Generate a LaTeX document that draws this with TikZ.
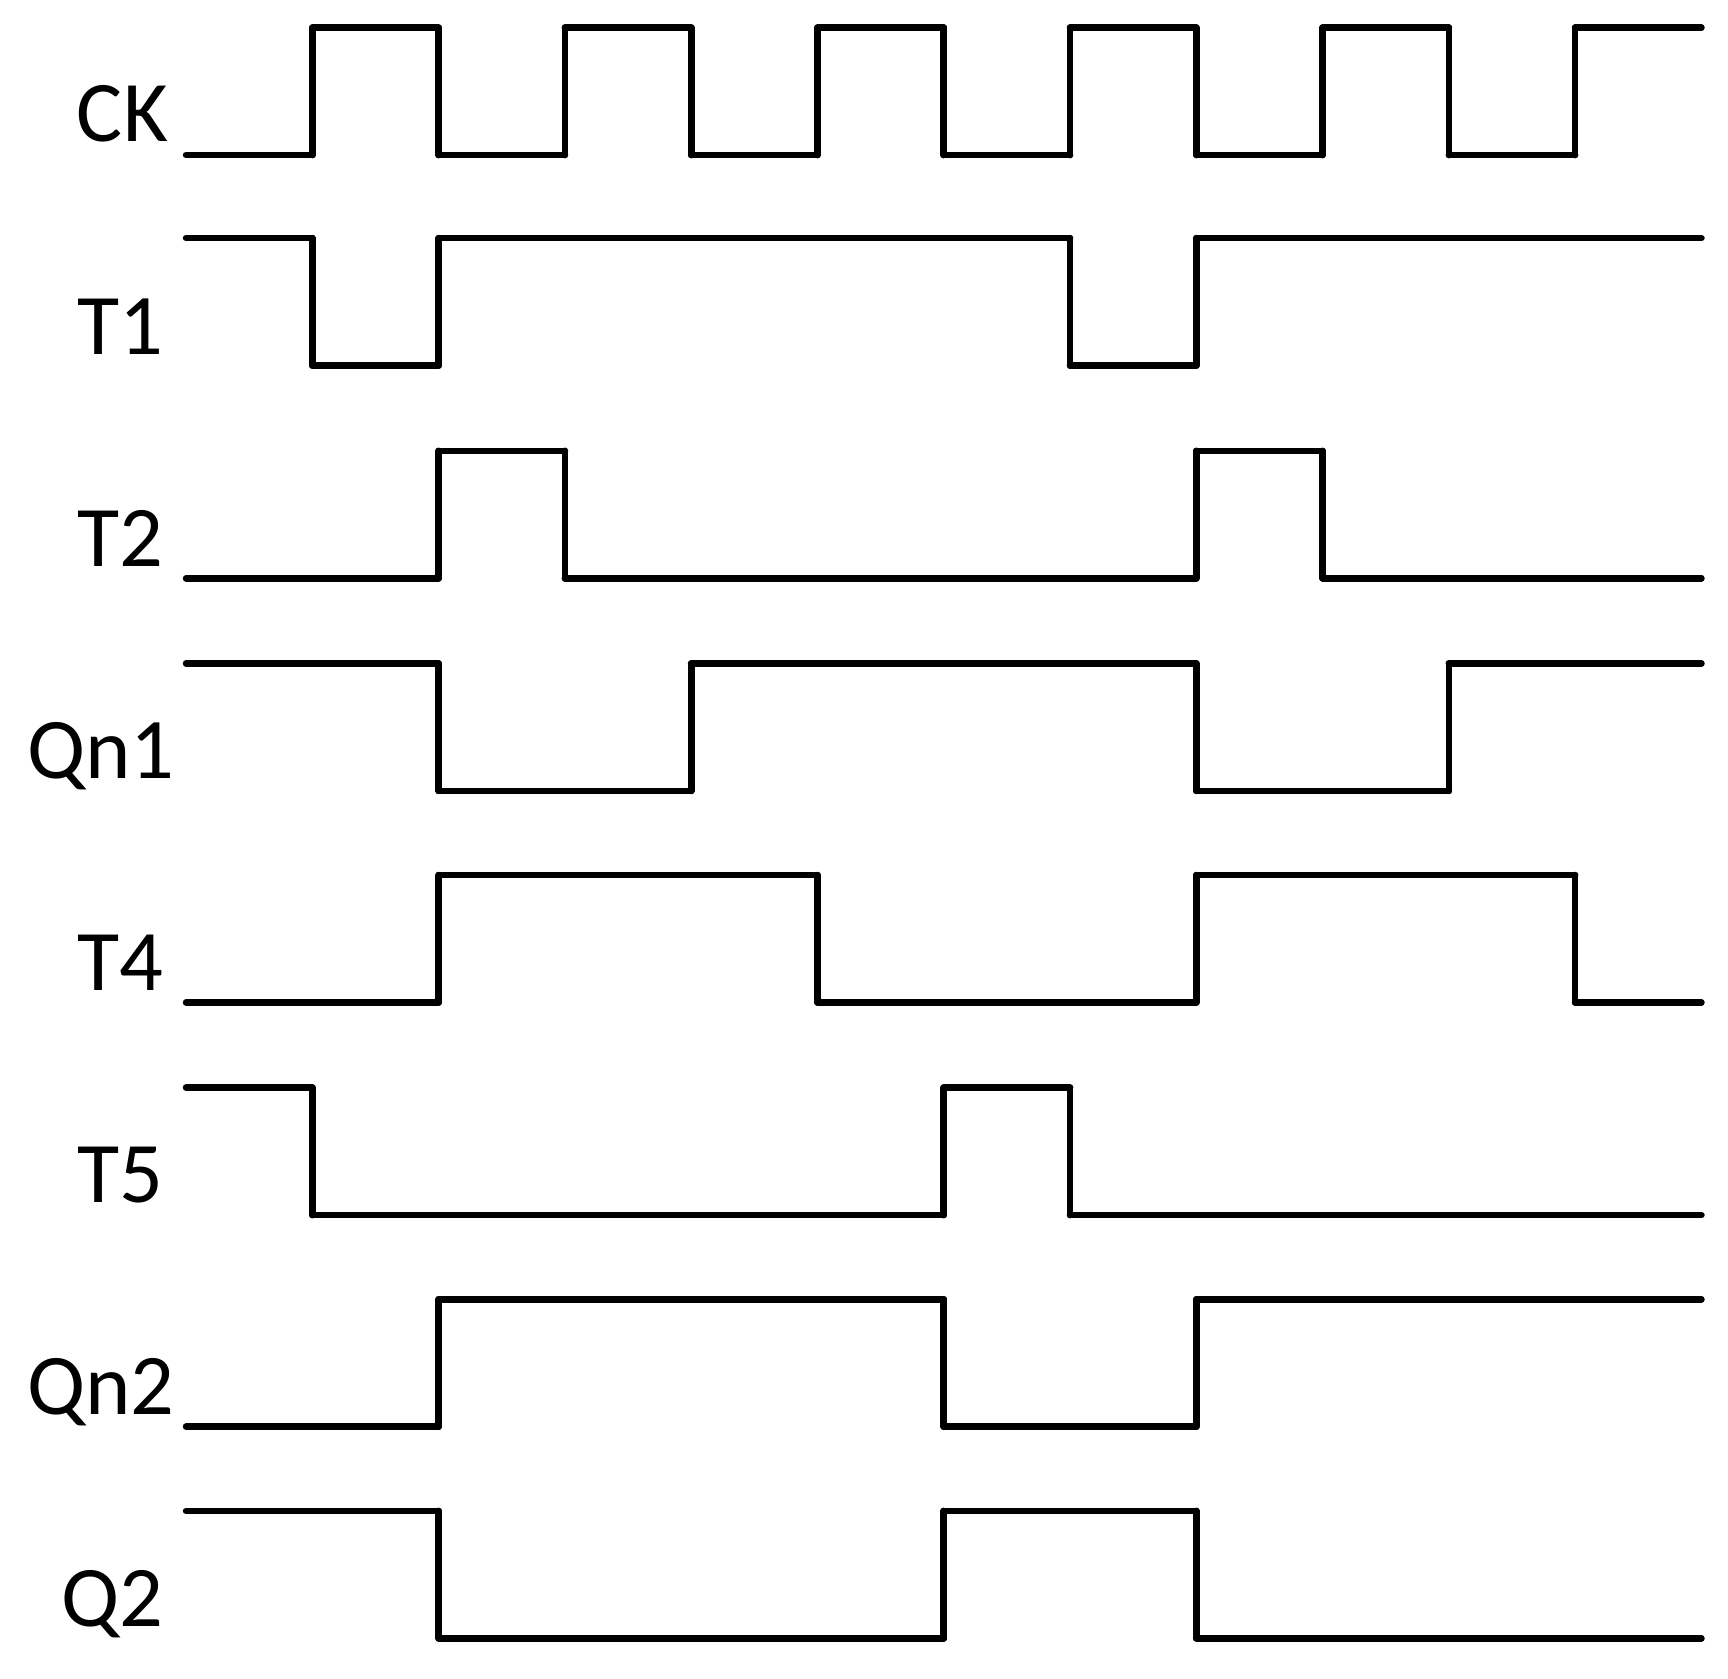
\documentclass[tikz,border=0pt]{standalone}
\usepackage{fontspec}
\setmainfont{Carlito}
\begin{document}
\begin{tikzpicture}[x=0.5pt,y=-0.5pt,wave/.style={line width=3pt,line join=miter,line cap=round},lab/.style={anchor=base east,font=\fontsize{39pt}{39pt}\selectfont,inner sep=0pt}]
\useasboundingbox (0,0) rectangle (1560,1515);
\newcommand\wv[2]{%
 \foreach \l [count=\i from 0] in {#2} {%
   \pgfmathsetmacro\xa{168+114*\i}\pgfmathsetmacro\xb{168+114*(\i+1)}%
   \pgfmathsetmacro\yy{\l==1?#1:#1+115}%
   \draw[wave] (\xa,\yy) -- (\xb,\yy);
 }}
\newcommand\edges[2]{\foreach \k in {#2}{\pgfmathsetmacro\xe{168+114*\k}\draw[wave] (\xe,#1) -- (\xe,#1+115);}}
% CK
\wv{25}{0,1,0,1,0,1,0,1,0,1,0,1}\edges{25}{1,2,3,4,5,6,7,8,9,10,11}
\node[lab] (ck) at (152,128) {CK};
% T1
\wv{215}{1,0,1,1,1,1,1,0,1,1,1,1}\edges{215}{1,2,7,8}
\node[lab] (t1) at (148,320) {T1};
% T2
\wv{407}{0,0,1,0,0,0,0,0,1,0,0,0}\edges{407}{2,3,8,9}
\node[lab] (t2) at (148,511) {T2};
% Qn1
\wv{599}{1,1,0,0,1,1,1,1,0,0,1,1}\edges{599}{2,4,8,10}
\node[lab] (qn1) at (158,703) {Qn1};
% T4
\wv{790}{0,0,1,1,1,0,0,0,1,1,1,0}\edges{790}{2,5,8,11}
\node[lab] (t4) at (148,894) {T4};
% T5
\wv{982}{1,0,0,0,0,0,1,0,0,0,0,0}\edges{982}{1,6,7}
\node[lab] (t5) at (148,1086) {T5};
% Qn2
\wv{1173}{0,0,1,1,1,1,0,0,1,1,1,1}\edges{1173}{2,6,8}
\node[lab] (qn2) at (158,1277) {Qn2};
% Q2
\wv{1364}{1,1,0,0,0,0,1,1,0,0,0,0}\edges{1364}{2,6,8}
\node[lab] (q2) at (148,1468) {Q2};
\end{tikzpicture}
\end{document}
